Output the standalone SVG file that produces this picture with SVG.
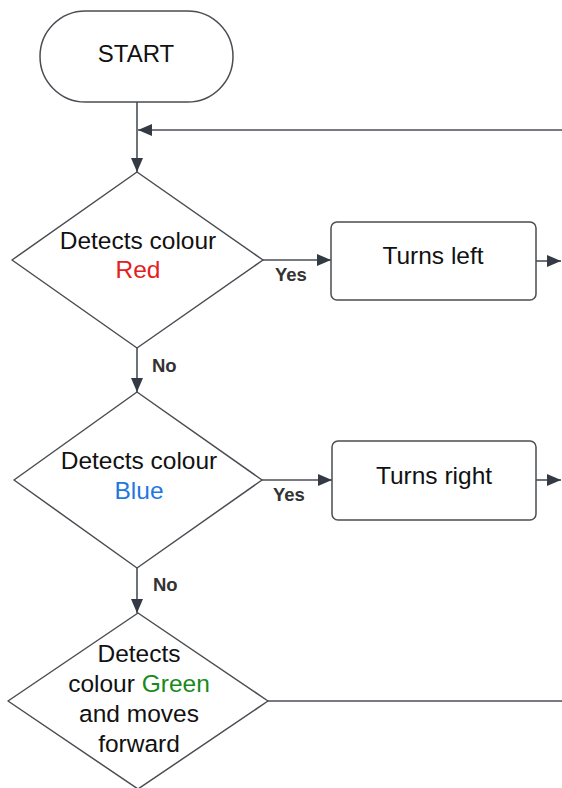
<svg xmlns="http://www.w3.org/2000/svg" width="562" height="788" viewBox="0 0 562 788">
  <style>
    .shape { fill: #ffffff; stroke: #4a4d52; stroke-width: 1.5; stroke-linejoin: round; }
    .conn { fill: none; stroke: #4a4f57; stroke-width: 1.6; }
    .t { font-family: "Liberation Sans", Arial, sans-serif; font-size: 24.5px; fill: #111111; text-anchor: middle; }
    .lbl { font-family: "Liberation Sans", Arial, sans-serif; font-size: 18.5px; font-weight: bold; fill: #333333; }
    .red { fill: #e3201c; }
    .blue { fill: #1f78e0; }
    .green { fill: #168a1a; }
  </style>
  <defs>
    <marker id="arr" viewBox="0 0 14 12" refX="14" refY="6" markerWidth="14" markerHeight="12" markerUnits="userSpaceOnUse" orient="auto">
      <path d="M0,0 L14,6 L0,12 Z" fill="#333a44"/>
    </marker>
  </defs>

  <rect width="562" height="788" fill="#ffffff"/>

  <g id="connectors">
    <path class="conn" d="M137,102 L137,172" marker-end="url(#arr)"/>
    <path class="conn" d="M562,130 L138,130" marker-end="url(#arr)"/>
    <path class="conn" d="M263,260 L331,260" marker-end="url(#arr)"/>
    <path class="conn" d="M536,261 L561,261" marker-end="url(#arr)"/>
    <path class="conn" d="M137,348 L137,392" marker-end="url(#arr)"/>
    <path class="conn" d="M262,480 L332,480" marker-end="url(#arr)"/>
    <path class="conn" d="M536,480 L561,480" marker-end="url(#arr)"/>
    <path class="conn" d="M137,568 L137,613" marker-end="url(#arr)"/>
    <path class="conn" d="M268,701 L562,701"/>
    <text class="lbl" x="275" y="281">Yes</text>
    <text class="lbl" x="152" y="372">No</text>
    <text class="lbl" x="273" y="501">Yes</text>
    <text class="lbl" x="153" y="591">No</text>
  </g>

  <g id="start">
    <rect class="shape" x="40" y="11" width="193" height="91" rx="45.5" ry="45.5"/>
    <text class="t" x="136" y="62" style="font-size:24px">START</text>
  </g>

  <g id="detect-red">
    <path class="shape" d="M137,172 L263,260 L137,348 L12,260 Z"/>
    <text class="t" x="138" y="249">Detects colour</text>
    <text class="t red" x="138" y="278">Red</text>
  </g>

  <g id="turns-left">
    <rect class="shape" x="331" y="222" width="205" height="78" rx="6" ry="6"/>
    <text class="t" x="433" y="264">Turns left</text>
  </g>

  <g id="detect-blue">
    <path class="shape" d="M137,392 L262,480 L137,568 L14,480 Z"/>
    <text class="t" x="139" y="469">Detects colour</text>
    <text class="t blue" x="139" y="499">Blue</text>
  </g>

  <g id="turns-right">
    <rect class="shape" x="332" y="441" width="204" height="79" rx="6" ry="6"/>
    <text class="t" x="434" y="484">Turns right</text>
  </g>

  <g id="detect-green">
    <path class="shape" d="M138,613 L268,701 L138,789 L8,701 Z"/>
    <text class="t" x="139" y="662">Detects</text>
    <text class="t" x="139" y="692">colour <tspan class="green">Green</tspan></text>
    <text class="t" x="139" y="722">and moves</text>
    <text class="t" x="139" y="752">forward</text>
  </g>
</svg>
